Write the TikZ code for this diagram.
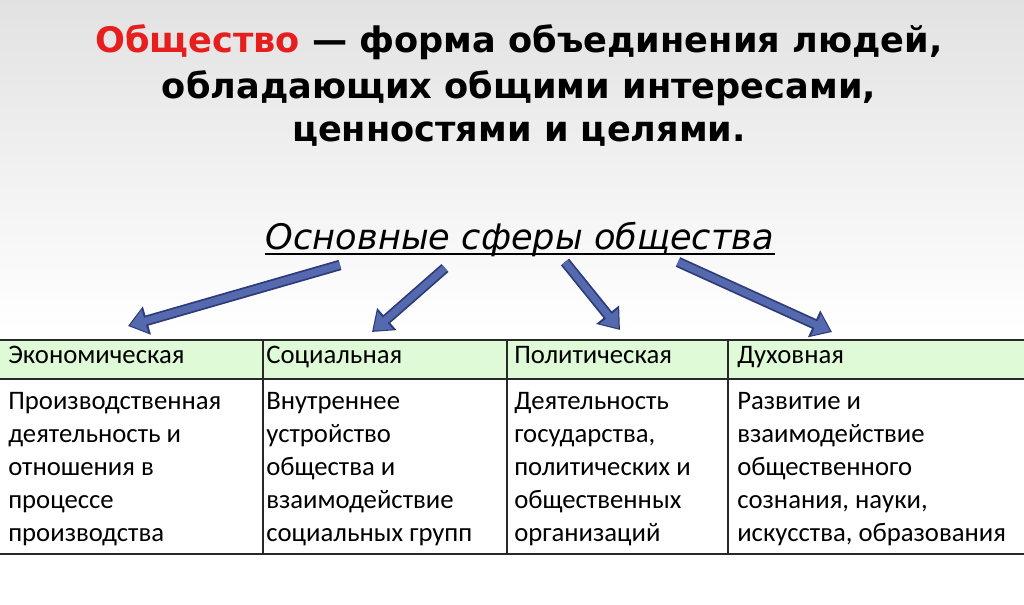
\documentclass[tikz,border=0pt]{standalone}
\usepackage{fontspec}
\setmainfont{DejaVu Sans}
\newfontfamily\calib{Carlito}
\usetikzlibrary{arrows.meta}
\definecolor{redt}{RGB}{230,30,30}
\definecolor{arrowc}{RGB}{85,105,175}
\definecolor{arrowd}{RGB}{45,60,120}
\definecolor{headg}{RGB}{222,250,214}
\definecolor{linec}{RGB}{40,40,40}
\tikzset{
  px/.style={x=0.025cm,y=-0.025cm},
  ttl/.style={font=\bfseries\fontsize{25}{30}\selectfont, anchor=center},
  cell/.style={font=\calib\fontsize{19}{23.5}\selectfont, anchor=north west, align=left, inner sep=0pt},
  bigarrow/.style={draw=arrowd, line width=7.5pt, -{Triangle[length=14pt,width=20pt]}},
  bigarrowin/.style={draw=arrowc, line width=5pt, -{Triangle[length=11pt,width=16pt]}, shorten >=1.5pt},
}
\begin{document}
\begin{tikzpicture}[px]
\useasboundingbox (0,0) rectangle (1024,604);
\shade[top color={rgb,255:red,226;green,226;blue,226}, bottom color=white] (0,0) rectangle (1024,330);
\fill[white] (0,330) rectangle (1024,604);
% title
\node[ttl] (t1) at (519,42) {\textcolor{redt}{Общество} — форма объединения людей,};
\node[ttl] (t2) at (519,88) {обладающих общими интересами,};
\node[ttl] (t3) at (519,134) {ценностями и целями.};
\node[font=\itshape\fontsize{25}{28}\selectfont] (sub) at (520,239) {Основные сферы общества};
\draw[line width=1.6pt] (265,254) -- (775,254);
% table
\fill[headg] (0,340) rectangle (1024,379);
\draw[linec, line width=1.4pt] (0,340) -- (1024,340);
\draw[linec, line width=1.6pt] (0,379) -- (1024,379);
\draw[linec, line width=1pt] (0,554) -- (1024,554);
\foreach \x in {263,507,728} \draw[linec, line width=1pt] (\x,340) -- (\x,554);
\node[cell] (h1) at (8,346) {Экономическая};
\node[cell] (h2) at (266,346) {Социальная};
\node[cell] (h3) at (514,346) {Политическая};
\node[cell] (h4) at (737,346) {Духовная};
\node[cell] (b1) at (8,392) {Производственная\\деятельность и\\отношения в\\процессе\\производства};
\node[cell] (b2) at (266,392) {Внутреннее\\устройство\\общества и\\взаимодействие\\социальных групп};
\node[cell] (b3) at (514,392) {Деятельность\\государства,\\политических и\\общественных\\организаций};
\node[cell] (b4) at (737,392) {Развитие и\\взаимодействие\\общественного\\сознания, науки,\\искусства, образования};
% arrows
\coordinate (a1s) at (340,265); \coordinate (a1e) at (128,326);
\coordinate (a2s) at (445,268); \coordinate (a2e) at (372,332);
\coordinate (a3s) at (565,262); \coordinate (a3e) at (620,330);
\coordinate (a4s) at (678,262); \coordinate (a4e) at (832,332);
\foreach \s/\e in {a1s/a1e,a2s/a2e,a3s/a3e,a4s/a4e}{
  \draw[bigarrow] (\s) -- (\e);
  \draw[bigarrowin] (\s) -- (\e);
}
\end{tikzpicture}
\end{document}
